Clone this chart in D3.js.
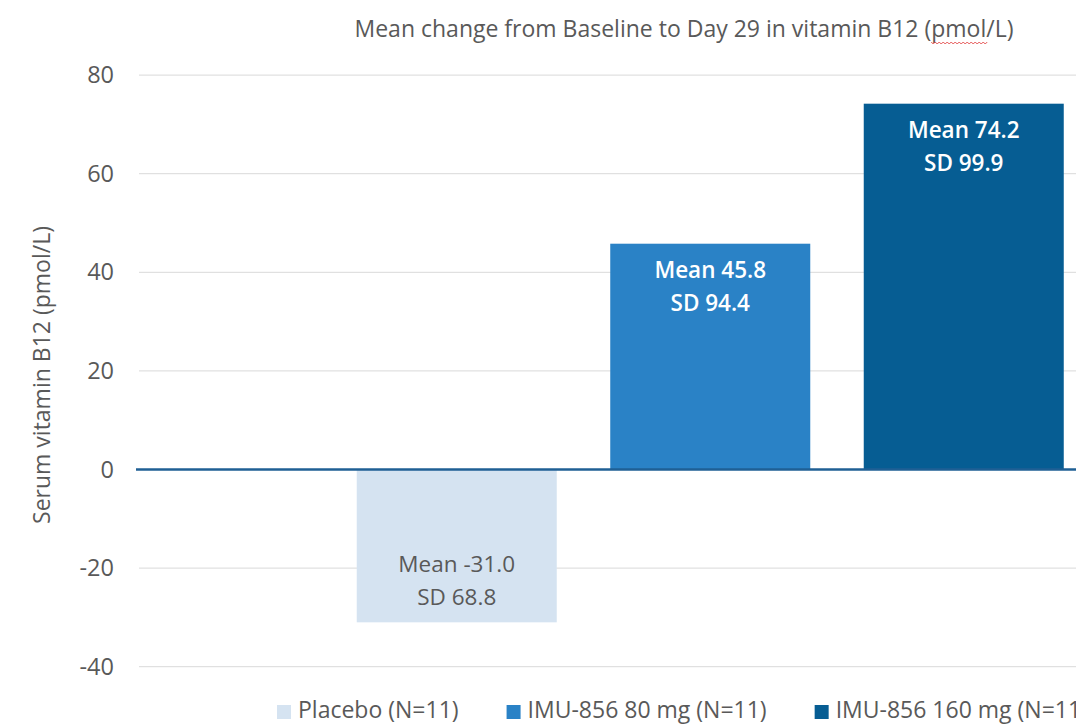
<!DOCTYPE html>
<meta charset="utf-8">
<script src="https://d3js.org/d3.v7.min.js"></script>
<style>
  body { margin: 0; background: #fff; }
  svg text { font-family: "Open Sans", sans-serif; fill: #595959; }
</style>
<div id="chart"></div>
<script>

var title = "Mean change from Baseline to Day 29 in vitamin B12 (pmol/L)";
var yTitle = "Serum vitamin B12 (pmol/L)";
var series = ["Placebo (N=11)", "IMU-856 80 mg (N=11)", "IMU-856 160 mg (N=11)"];
var means = [-31.0, 45.8, 74.2];
var sds = [68.8, 94.4, 99.9];
var colors = ["#d5e3f1", "#2a82c6", "#065d93"];
var yTicks = [-40, -20, 0, 20, 40, 60, 80];

var W = 1076, H = 724;

var svg = d3.select("#chart").append("svg")
  .attr("width", W)
  .attr("height", H);

var y = d3.scaleLinear()
  .domain([-40, 80])
  .range([666.7, 75.1]);

var x = d3.scaleBand()
  .domain(series)
  .range([330, 1090.5])
  .paddingInner(0.211)
  .paddingOuter(0.1055);

// gridlines
svg.append("g").selectAll("line")
  .data(yTicks.filter(function(d) { return d != 0; }))
  .enter().append("line")
  .attr("x1", 139).attr("x2", W)
  .attr("y1", function(d) { return y(d); })
  .attr("y2", function(d) { return y(d); })
  .attr("stroke", "#d9d9d9")
  .attr("stroke-width", 1);

// y axis labels (plain hyphen for negatives, like the original)
var yAxis = d3.axisLeft(y).tickValues(yTicks).tickSize(0).tickPadding(0)
  .tickFormat(function(d) { return String(d); });
var gy = svg.append("g").attr("transform", "translate(114,0)").call(yAxis);
gy.select(".domain").remove();
gy.selectAll("text")
  .style("font-family", "'Open Sans', sans-serif")
  .style("font-size", "23.5px")
  .attr("fill", "#595959");

// bars
svg.append("g").selectAll("rect")
  .data(series)
  .enter().append("rect")
  .attr("x", function(d) { return x(d); })
  .attr("width", x.bandwidth())
  .attr("y", function(d, i) { return y(Math.max(0, means[i])); })
  .attr("height", function(d, i) { return Math.abs(y(means[i]) - y(0)); })
  .attr("fill", function(d, i) { return colors[i]; });

// zero line
svg.append("line")
  .attr("x1", 136).attr("x2", W)
  .attr("y1", y(0)).attr("y2", y(0))
  .attr("stroke", "#1f5f94")
  .attr("stroke-width", 2.5);

// bar labels
series.forEach(function(s, i) {
  var cx = x(s) + x.bandwidth() / 2;
  var pos = means[i] >= 0;
  var y1 = pos ? y(means[i]) + 34 : y(means[i]) - 50;
  var t = svg.append("text")
    .attr("text-anchor", "middle")
    .style("font-size", "22.5px")
    .style("font-weight", pos ? "600" : "normal")
    .style("fill", pos ? "#fff" : "#595959");
  t.append("tspan").attr("x", cx).attr("y", y1).text("Mean " + means[i].toFixed(1));
  t.append("tspan").attr("x", cx).attr("y", y1 + 33).text("SD " + sds[i].toFixed(1));
});

// title
var tt = svg.append("text")
  .attr("x", 684)
  .attr("y", 37)
  .attr("text-anchor", "middle")
  .style("font-size", "23px")
  .text(title);

// spell-check squiggle under "pmol"
var node = tt.node();
var idx = title.indexOf("pmol");
var sx = node.getStartPositionOfChar(idx).x;
var ex = node.getEndPositionOfChar(idx + 3).x;
var sq = "M" + sx + ",42";
for (var px = sx, k = 0; px < ex; px += 2, k++) {
  sq += " L" + (px + 2) + "," + (k % 2 ? 42 : 44);
}
svg.append("path")
  .attr("d", sq)
  .attr("fill", "none")
  .attr("stroke", "#e03030")
  .attr("stroke-width", 0.8);

// y axis title
svg.append("text")
  .attr("transform", "translate(50,375) rotate(-90)")
  .attr("text-anchor", "middle")
  .style("font-size", "23px")
  .text(yTitle);

// legend
var lx = 277;
series.forEach(function(s, i) {
  svg.append("rect")
    .attr("x", lx).attr("y", 705)
    .attr("width", 14).attr("height", 14)
    .attr("fill", colors[i]);
  var lt = svg.append("text")
    .attr("x", lx + 21)
    .attr("y", 718)
    .style("font-size", "23px")
    .text(s);
  lx = lx + 21 + lt.node().getComputedTextLength() + 48;
});

</script>
